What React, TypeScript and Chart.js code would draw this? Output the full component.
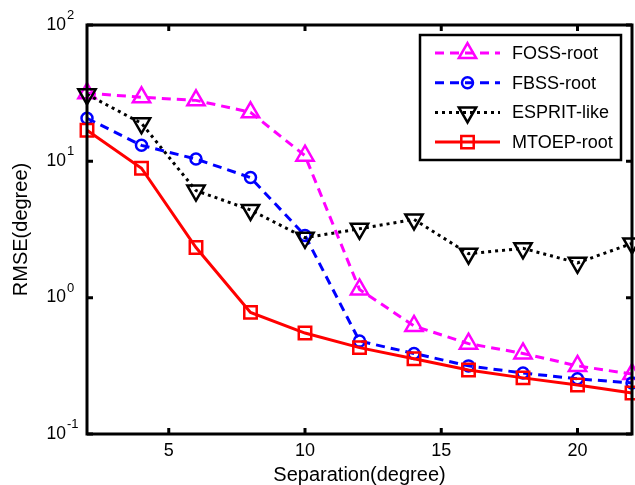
import React, { useEffect, useRef } from "react";
import { Chart, registerables } from "chart.js";
import { drawPoint } from "chart.js/helpers";

Chart.register(...registerables);

const separation = [2, 4, 6, 8, 10, 12, 14, 16, 18, 20, 22];
const fossRoot = [31.6, 29.5, 28, 22.9, 11, 1.15, 0.62, 0.46, 0.39, 0.316, 0.275];
const fbssRoot = [20.7, 13.1, 10.4, 7.6, 2.86, 0.48, 0.39, 0.316, 0.28, 0.254, 0.237];
const espritLike = [31, 19, 6.1, 4.4, 2.75, 3.2, 3.75, 2.1, 2.3, 1.8, 2.5];
const mtoepRoot = [16.9, 8.9, 2.33, 0.78, 0.55, 0.43, 0.356, 0.295, 0.258, 0.229, 0.2];

const xTicks = [5, 10, 15, 20];
const yTicks = [0.1, 1, 10, 100];
const yTickBase = "10";
const yTickExponents = ["-1", "0", "1", "2"];

const FONT = '"Liberation Sans", Arial, Helvetica, sans-serif';

const framePlugin = {
  id: "matlabFrame",
  afterDatasetsDraw(chart: any) {
    const { ctx, chartArea } = chart;
    const { left, right, top, bottom } = chartArea;
    const xs = chart.scales.x;
    const ys = chart.scales.y;
    ctx.save();
    ctx.strokeStyle = "#000";
    ctx.lineWidth = 3;
    ctx.setLineDash([]);
    ctx.strokeRect(left, top, right - left, bottom - top);
    const tl = 6;
    ctx.beginPath();
    xTicks.forEach((v) => {
      const px = xs.getPixelForValue(v);
      ctx.moveTo(px, bottom);
      ctx.lineTo(px, bottom - tl);
      ctx.moveTo(px, top);
      ctx.lineTo(px, top + tl);
    });
    yTicks.forEach((v) => {
      const py = ys.getPixelForValue(v);
      ctx.moveTo(left, py);
      ctx.lineTo(left + tl, py);
      ctx.moveTo(right, py);
      ctx.lineTo(right - tl, py);
    });
    ctx.stroke();
    // exponents of the y tick labels
    ctx.fillStyle = "#000";
    ctx.font = `13px ${FONT}`;
    ctx.textAlign = "left";
    ctx.textBaseline = "alphabetic";
    yTicks.forEach((v, i) => {
      const py = ys.getPixelForValue(v);
      ctx.fillText(yTickExponents[i], left - 20, py - 6);
    });
    ctx.restore();
  },
};

const legendPlugin = {
  id: "matlabLegend",
  afterDraw(chart: any) {
    const { ctx, chartArea } = chart;
    const bw = 201;
    const bh = 125;
    const bx = chartArea.right - 11 - bw;
    const by = chartArea.top + 10;
    ctx.save();
    ctx.fillStyle = "#fff";
    ctx.fillRect(bx, by, bw, bh);
    ctx.strokeStyle = "#000";
    ctx.lineWidth = 2.5;
    ctx.setLineDash([]);
    ctx.strokeRect(bx, by, bw, bh);
    const datasets = chart.data.datasets;
    datasets.forEach((ds: any, i: number) => {
      const y = by + 18 + i * 29.7;
      const x0 = bx + 15;
      const x1 = bx + 80;
      const xm = (x0 + x1) / 2;
      ctx.strokeStyle = ds.borderColor;
      ctx.lineWidth = ds.borderWidth;
      ctx.setLineDash(ds.borderDash || []);
      ctx.beginPath();
      ctx.moveTo(x0, y);
      ctx.lineTo(x1, y);
      ctx.stroke();
      ctx.setLineDash([]);
      ctx.fillStyle = "rgba(0,0,0,0)";
      ctx.strokeStyle = ds.pointBorderColor;
      ctx.lineWidth = ds.pointBorderWidth;
      drawPoint(
        ctx,
        {
          pointStyle: ds.pointStyle,
          rotation: ds.pointRotation || 0,
          radius: ds.pointRadius,
          borderWidth: ds.pointBorderWidth,
        },
        xm,
        y
      );
      ctx.fillStyle = "#000";
      ctx.font = `18px ${FONT}`;
      ctx.textBaseline = "middle";
      ctx.textAlign = "left";
      ctx.fillText(ds.label, bx + 92, y + 1);
    });
    ctx.restore();
  },
};

function series(values: number[]) {
  return separation.map((x, i) => ({ x, y: values[i] }));
}

export default function App() {
  const ref = useRef<HTMLCanvasElement>(null);
  useEffect(() => {
    document.body.style.margin = "0";
    const canvas = ref.current;
    if (!canvas) return;
    const common = {
      borderWidth: 3,
      pointBorderWidth: 2.5,
      pointBackgroundColor: "rgba(0,0,0,0)",
      tension: 0,
      clip: false as any,
      fill: false,
    };
    const chart = new Chart(canvas, {
      type: "line",
      data: {
        datasets: [
          {
            ...common,
            label: "FOSS-root",
            data: series(fossRoot),
            borderColor: "#ff00ff",
            pointBorderColor: "#ff00ff",
            borderDash: [9, 6],
            pointStyle: "triangle",
            pointRadius: 10,
            order: 3,
          } as any,
          {
            ...common,
            label: "FBSS-root",
            data: series(fbssRoot),
            borderColor: "#0000ff",
            pointBorderColor: "#0000ff",
            borderDash: [9, 6],
            pointStyle: "circle",
            pointRadius: 5.5,
            order: 2,
          } as any,
          {
            ...common,
            label: "ESPRIT-like",
            data: series(espritLike),
            borderColor: "#000000",
            pointBorderColor: "#000000",
            borderDash: [3, 4],
            pointStyle: "triangle",
            pointRotation: 180,
            pointRadius: 10,
            order: 1,
          } as any,
          {
            ...common,
            label: "MTOEP-root",
            data: series(mtoepRoot),
            borderColor: "#ff0000",
            pointBorderColor: "#ff0000",
            pointStyle: "rect",
            pointRadius: 8.8,
            order: 0,
          } as any,
        ],
      },
      options: {
        animation: false,
        responsive: false,
        devicePixelRatio: 1,
        layout: {
          autoPadding: false,
          padding: { top: 25, right: 3, left: 0, bottom: 0 },
        },
        plugins: {
          legend: { display: false },
          tooltip: { enabled: false },
        },
        scales: {
          x: {
            type: "linear",
            min: 2,
            max: 22,
            afterBuildTicks: (s: any) => {
              s.ticks = xTicks.map((v) => ({ value: v }));
            },
            afterFit: (s: any) => {
              s.height = 51;
              s.paddingLeft = 0;
              s.paddingRight = 0;
            },
            grid: { display: false, drawTicks: false },
            border: { display: false },
            ticks: {
              color: "#000",
              font: { family: FONT, size: 18 },
              padding: 6,
              maxRotation: 0,
              autoSkip: false,
            },
            title: {
              display: true,
              text: "Separation(degree)",
              color: "#000",
              font: { family: FONT, size: 20, lineHeight: 1 },
              padding: 0,
            },
          },
          y: {
            type: "logarithmic",
            min: 0.1,
            max: 100,
            afterBuildTicks: (s: any) => {
              s.ticks = yTicks.map((v) => ({ value: v, major: true }));
            },
            afterFit: (s: any) => {
              s.width = 87;
              s.paddingTop = 0;
              s.paddingBottom = 0;
            },
            grid: { display: false, drawTicks: false },
            border: { display: false },
            ticks: {
              color: "#000",
              font: { family: FONT, size: 17.5 },
              padding: 21,
              autoSkip: false,
              callback: () => yTickBase,
            },
            title: {
              display: true,
              text: "RMSE(degree)",
              color: "#000",
              font: { family: FONT, size: 20 },
              padding: { top: 9, bottom: 0 },
            },
          },
        },
      },
      plugins: [framePlugin, legendPlugin],
    } as any);
    return () => chart.destroy();
  }, []);
  return (
    <canvas
      ref={ref}
      width={635}
      height={485}
      style={{ display: "block", width: 635, height: 485 }}
    />
  );
}
